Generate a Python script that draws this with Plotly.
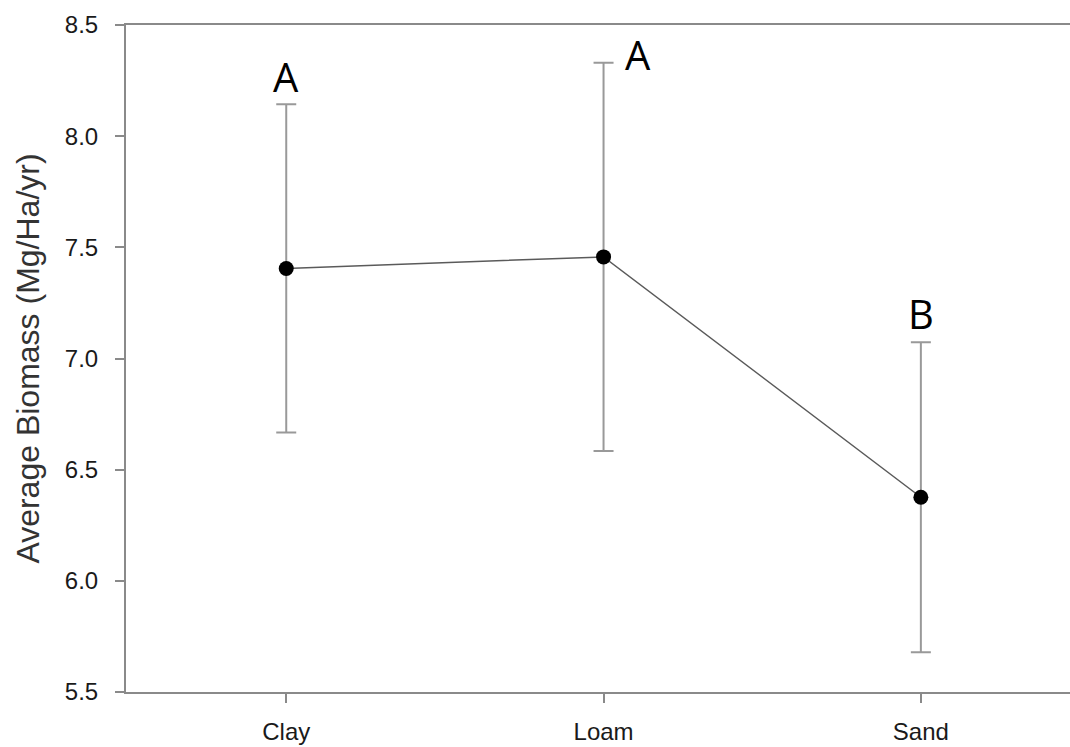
import plotly.graph_objects as go

# Soil texture classes and mean annual biomass with error bars
soils = ["Clay", "Loam", "Sand"]
biomass_mean = [7.405, 7.457, 6.376]
biomass_err = [0.738, 0.873, 0.697]
group_letters = ["A", "A", "B"]
y_ticks = [5.5, 6.0, 6.5, 7.0, 7.5, 8.0, 8.5]

AXIS_GREY = "#8a8a8a"

fig = go.Figure()

fig.add_trace(go.Scatter(
    x=soils,
    y=biomass_mean,
    mode="lines+markers",
    line=dict(color="#5a5a5a", width=1.5),
    marker=dict(color="black", size=15),
    error_y=dict(type="data", array=biomass_err, visible=True,
                 color="#999999", thickness=2, width=10),
    showlegend=False,
    hoverinfo="skip",
))

# Significance group letters above each error bar
letter_shift = [0, 34, 0]
letter_yshift = [-2, -21, -1]
for soil, m, e, lab, xs, ys in zip(soils, biomass_mean, biomass_err,
                                   group_letters, letter_shift, letter_yshift):
    fig.add_annotation(
        x=soil, y=m + e, text=lab, showarrow=False,
        xanchor="center", yanchor="bottom",
        xshift=xs, yshift=ys,
        font=dict(family="Open Sans", size=40, color="black"),
    )

fig.update_layout(
    width=1070, height=747,
    margin=dict(l=126, r=0, t=25, b=55),
    paper_bgcolor="white",
    plot_bgcolor="white",
    font=dict(family="Liberation Sans, Arial", color="#222222"),
)

fig.update_xaxes(
    range=[-0.505, 2.47],
    showline=True, linecolor=AXIS_GREY, linewidth=2, mirror=True,
    ticks="outside", ticklen=9, tickwidth=2, tickcolor=AXIS_GREY,
    tickfont=dict(size=24, color="#1a1a1a"),
    ticklabelstandoff=8,
    showgrid=False, zeroline=False,
)

fig.update_yaxes(
    range=[5.5, 8.5],
    tickvals=y_ticks,
    ticktext=[f"{v:.1f}" for v in y_ticks],
    showline=True, linecolor=AXIS_GREY, linewidth=2, mirror=False,
    ticks="outside", ticklen=9, tickwidth=2, tickcolor=AXIS_GREY,
    tickfont=dict(size=24, color="#1a1a1a"),
    ticklabelstandoff=12,
    title=dict(text="Average Biomass (Mg/Ha/yr)",
               font=dict(size=32, color="#333333"), standoff=16),
    showgrid=False, zeroline=False,
)

fig.write_html("out.html")
